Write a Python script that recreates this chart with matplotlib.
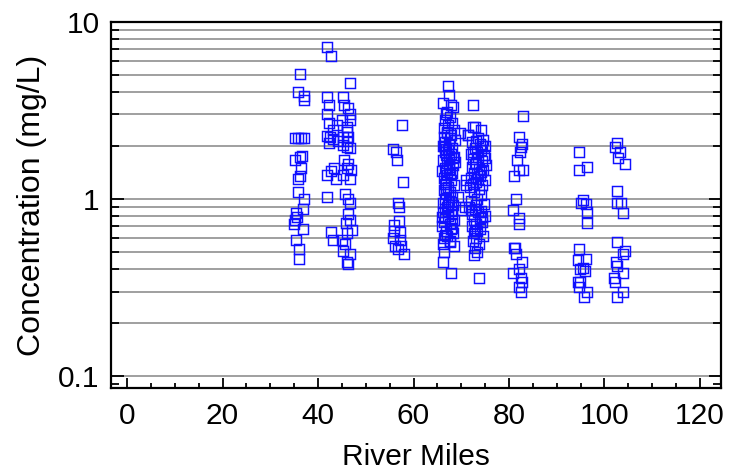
import matplotlib
matplotlib.use("Agg")
import matplotlib.pyplot as plt
from matplotlib.ticker import FixedLocator, NullFormatter, MultipleLocator, LogLocator

plt.rcParams['font.family'] = ['Liberation Sans', 'DejaVu Sans']

# River-mile station groups: (river mile, concentration mg/L)
site_36_miles = [36.2, 35.9, 37.1, 37.1, 35.2, 35.8, 36.4, 37.0, 36.6, 36.2, 35.2, 36.4,
                 36.2, 35.8, 35.8, 37.0, 36.9, 35.4, 35.5, 35.2, 35.0, 36.9, 35.4, 36.0, 36.0]
site_36_conc = [5.1, 4.0, 3.8, 3.6, 2.22, 2.22, 2.22, 2.22, 1.75, 1.73, 1.65, 1.5,
                1.35, 1.3, 1.1, 1.0, 0.88, 0.83, 0.79, 0.76, 0.72, 0.68, 0.59, 0.52, 0.46]

site_45_miles = [41.9, 42.7, 46.8, 41.9, 42.2, 45.3, 45.5, 46.2, 41.9, 46.8, 42.4, 45.0,
                 46.7, 43.9, 46.1, 43.2, 46.1, 41.8, 42.5, 45.3, 46.3, 43.2, 46.0, 42.2,
                 44.2, 45.3, 46.7, 46.0, 45.5, 46.2, 46.0, 43.4, 42.7, 41.9, 47.0, 43.7,
                 45.3, 46.6, 41.9, 45.6, 46.3, 46.6, 46.3, 46.6, 45.8, 47.2, 42.7, 46.1,
                 43.2, 45.1, 45.6, 45.3, 46.7, 46.1, 46.3]
site_45_conc = [7.2, 6.4, 4.5, 3.75, 3.4, 3.75, 3.4, 3.25, 3.0, 3.0, 2.7, 2.8,
                2.8, 2.6, 2.55, 2.45, 2.4, 2.27, 2.23, 2.25, 2.25, 2.17, 2.13, 2.06,
                2.13, 2.02, 1.93, 1.96, 1.66, 1.58, 1.49, 1.49, 1.43, 1.37, 1.46, 1.29,
                1.37, 1.29, 1.02, 1.07, 1.0, 0.95, 0.82, 0.76, 0.73, 0.67, 0.65, 0.64,
                0.59, 0.59, 0.56, 0.51, 0.49, 0.44, 0.43]

site_57_miles = [57.5, 55.8, 56.3, 56.5, 57.7, 56.8, 57.0, 57.0, 55.9, 56.0, 57.2, 55.8,
                 57.2, 56.1, 57.4, 56.8, 58.1]
site_57_conc = [2.62, 1.91, 1.85, 1.65, 1.24, 0.95, 0.9, 0.75, 0.71, 0.66, 0.65, 0.6,
                0.59, 0.54, 0.54, 0.52, 0.49]

site_67_miles = [67.2, 67.4, 66.2, 67.8, 68.3, 67.0, 66.8, 67.6, 66.5, 68.1, 67.3, 66.4,
                 68.4, 67.0, 66.3, 67.7, 68.6, 66.7, 67.4, 66.1, 68.0, 67.2, 66.5, 67.9,
                 66.9, 68.4, 67.4, 66.2, 67.0, 68.2, 66.6, 67.5, 66.0, 68.0, 67.1, 66.4,
                 67.8, 66.8, 68.5, 67.3, 66.3, 67.6, 66.9, 68.1, 66.5, 67.4, 66.1, 68.3,
                 67.0, 66.6, 67.8, 66.2, 68.0, 67.3, 66.7, 68.4, 66.3, 67.6, 66.0, 67.9,
                 66.8, 68.2, 67.1, 66.4, 67.7, 66.2, 68.5, 66.3, 66.1, 67.9, 67.9, 66.8,
                 67.5, 68.6, 66.9, 67.7, 66.6, 67.8, 67.2, 68.0, 66.6, 67.0, 66.4, 68.2,
                 67.5, 66.9, 67.3, 66.0, 68.1, 67.6]
site_67_conc = [4.35, 3.87, 3.5, 3.4, 3.3, 3.1, 3.0, 2.9, 2.8, 2.7, 2.6, 2.5,
                2.45, 2.35, 2.25, 2.2, 2.15, 2.1, 2.05, 2.0, 1.95, 1.9, 1.85, 1.8,
                1.78, 1.72, 1.68, 1.65, 1.6, 1.55, 1.5, 1.47, 1.43, 1.4, 1.36, 1.32,
                1.28, 1.25, 1.2, 1.17, 1.13, 1.1, 1.07, 1.03, 1.0, 0.98, 0.95, 0.93,
                0.9, 0.88, 0.86, 0.84, 0.82, 0.8, 0.78, 0.76, 0.74, 0.72, 0.7, 0.68,
                0.66, 0.64, 0.62, 0.6, 0.58, 0.56, 0.54, 0.5, 0.44, 0.38, 2.3, 1.92,
                1.75, 1.62, 1.45, 1.38, 1.22, 0.96, 0.85, 0.73, 0.63, 2.4, 1.98, 1.7,
                1.52, 1.15, 0.92, 0.79, 0.69, 0.57]

site_70_miles = [69.7, 71.5, 72.5, 70.9, 70.2, 69.4, 72.4]
site_70_conc = [2.35, 2.3, 2.56, 1.28, 0.87, 1.03, 3.4]

site_73_miles = [72.8, 74.2, 71.4, 73.5, 74.6, 72.3, 73.9, 75.0, 72.8, 74.1, 73.2, 72.0,
                 74.8, 73.6, 72.5, 74.3, 73.0, 75.1, 72.2, 73.8, 74.6, 72.7, 73.4, 74.0,
                 72.1, 74.9, 73.1, 72.4, 74.4, 71.9, 73.7, 72.6, 74.2, 73.3, 72.0, 74.7,
                 73.0, 71.6, 72.8, 74.1, 73.5, 72.3, 75.0, 73.9, 72.6, 74.4, 73.1, 72.2,
                 74.0, 73.4, 72.7, 74.6, 73.0, 72.4, 73.8, 72.9, 73.3, 72.6, 73.7, 70.9,
                 70.7, 73.0, 74.4, 72.5, 74.9, 72.9, 74.1, 73.5, 72.0, 74.3, 72.9]
site_73_conc = [2.54, 2.45, 2.3, 2.2, 2.15, 2.1, 2.05, 2.0, 1.95, 1.9, 1.85, 1.8,
                1.76, 1.72, 1.68, 1.64, 1.6, 1.56, 1.52, 1.48, 1.45, 1.41, 1.38, 1.35,
                1.31, 1.28, 1.25, 1.22, 1.2, 1.17, 1.14, 1.1, 1.05, 1.0, 0.97, 0.94,
                0.92, 0.9, 0.88, 0.86, 0.84, 0.82, 0.8, 0.78, 0.76, 0.74, 0.72, 0.7,
                0.68, 0.66, 0.64, 0.62, 0.6, 0.58, 0.56, 0.53, 0.5, 0.48, 0.36, 1.2,
                0.9, 2.12, 1.98, 1.83, 1.7, 1.58, 1.42, 1.3, 0.87, 0.79, 0.67]

site_82_miles = [83.0, 82.0, 82.7, 82.5, 82.3, 81.7, 82.9, 82.0, 81.0, 81.5, 80.8, 82.2,
                 82.0, 81.0, 81.3, 81.5, 82.7, 80.8, 82.2, 82.5, 82.7, 82.2, 82.5]
site_82_conc = [2.94, 2.23, 2.04, 1.96, 1.85, 1.65, 1.46, 1.46, 1.35, 1.0, 0.87, 0.78,
                0.72, 0.53, 0.53, 0.49, 0.44, 0.38, 0.40, 0.36, 0.34, 0.32, 0.30]

site_95_miles = [94.7, 96.3, 94.7, 95.6, 95.0, 96.1, 96.4, 96.3, 94.7, 96.1, 94.5, 95.4,
                 94.9, 95.9, 94.4, 94.9, 94.7, 96.4, 95.7]
site_95_conc = [1.85, 1.52, 1.46, 0.99, 0.95, 0.94, 0.84, 0.73, 0.52, 0.46, 0.45, 0.41,
                0.40, 0.39, 0.34, 0.34, 0.32, 0.30, 0.28]

site_103_miles = [102.7, 102.2, 103.2, 102.9, 104.3, 102.7, 102.7, 103.4, 103.8, 102.7,
                  104.3, 103.8, 102.4, 102.7, 103.9, 102.0, 102.2, 103.8, 102.6]
site_103_conc = [2.08, 1.96, 1.85, 1.7, 1.58, 1.11, 0.95, 0.95, 0.83, 0.57,
                 0.51, 0.49, 0.44, 0.42, 0.38, 0.36, 0.34, 0.30, 0.28]

river_miles = (site_36_miles + site_45_miles + site_57_miles + site_67_miles +
               site_70_miles + site_73_miles + site_82_miles + site_95_miles + site_103_miles)
concentration = (site_36_conc + site_45_conc + site_57_conc + site_67_conc +
                 site_70_conc + site_73_conc + site_82_conc + site_95_conc + site_103_conc)

x_ticks = [0, 20, 40, 60, 80, 100, 120]
y_ticks = [0.1, 1, 10]
y_tick_labels = ["0.1", "1", "10"]

fig = plt.figure(figsize=(7.29, 4.74), dpi=100)
ax = fig.add_axes([0.152, 0.181, 0.837, 0.773])

# horizontal grid at every log step
grid_levels = [m * 10.0 ** e for e in (-1, 0) for m in range(1, 10)] + [10.0]
for g in grid_levels:
    ax.axhline(g, color='#858585', lw=1.1, zorder=1)

ax.plot(river_miles, concentration, linestyle='none', marker='s', markersize=6.5,
        markerfacecolor='none', markeredgecolor='#1010ff', markeredgewidth=1.05,
        zorder=3)

ax.set_yscale('log')
ax.set_xlim(-3.4, 124.4)
ax.set_ylim(0.0855, 10)

ax.yaxis.set_major_locator(FixedLocator(y_ticks))
ax.set_yticklabels(y_tick_labels)
ax.yaxis.set_minor_locator(LogLocator(base=10, subs=range(2, 10)))
ax.yaxis.set_minor_formatter(NullFormatter())

ax.set_xticks(x_ticks)
ax.xaxis.set_minor_locator(MultipleLocator(5))

for s in ax.spines.values():
    s.set_linewidth(1.6)
    s.set_color('black')

ax.tick_params(axis='both', which='major', direction='in', labelsize=21.5, width=1.3,
               length=7, color='black')
ax.tick_params(axis='y', which='major', right=True, length=9)
ax.tick_params(axis='y', which='minor', direction='in', right=True, length=6, width=1.3)
ax.tick_params(axis='x', which='minor', direction='in', length=3.5, width=1.3)
ax.tick_params(axis='x', which='major', pad=10)
ax.tick_params(axis='y', which='major', pad=8)

ax.set_xlabel("River Miles", fontsize=21.5, labelpad=9)
ax.set_ylabel("Concentration (mg/L)", fontsize=23, labelpad=8)

fig.savefig("out.png", dpi=100)
